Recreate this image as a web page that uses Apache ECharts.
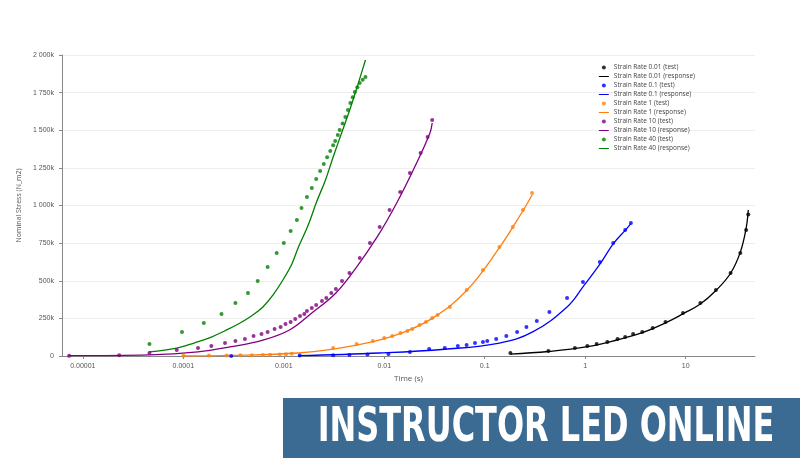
<!DOCTYPE html>
<html><head><meta charset="utf-8">
<script src="https://cdn.jsdelivr.net/npm/echarts@6/dist/echarts.min.js"></script>
<style>html,body{margin:0;padding:0;background:#fff}#c{width:800px;height:458px}</style>
</head><body><div id="c"></div>
<script>
// Strain Rate 40
const g_test_t = [4.6e-5,9.7e-5,1.6e-4,2.4e-4,3.3e-4,4.4e-4,5.5e-4,6.9e-4,8.5e-4,1.0e-3,1.17e-3,1.35e-3,1.5e-3,1.7e-3,1.9e-3,2.1e-3,2.3e-3,2.5e-3,2.7e-3,2.9e-3,3.1e-3,3.25e-3,3.45e-3,3.6e-3,3.85e-3,4.1e-3,4.35e-3,4.6e-3,4.85e-3,5.1e-3,5.4e-3,5.7e-3,6.1e-3,6.5e-3];
const g_test_v = [80,160,219,279,352,419,498,591,684,751,831,904,983,1057,1116,1176,1229,1276,1320,1362,1400,1429,1468,1502,1545,1588,1635,1681,1720,1754,1785,1814,1836,1854];
const g_resp_t = [4.6e-5,8.6e-5,1.3e-4,1.9e-4,2.6e-4,3.6e-4,4.8e-4,6.2e-4,7.8e-4,9.8e-4,1.2e-3,1.4e-3,1.75e-3,2.1e-3,2.6e-3,3.1e-3,3.8e-3,4.6e-3,5.5e-3,6.5e-3];
const g_resp_v = [27,53,88,126,168,216,268,326,405,505,610,724,870,1017,1170,1322,1490,1648,1810,1967];
// Strain Rate 10
const p_test_t = [7.3e-6,2.3e-5,4.6e-5,8.6e-5,1.4e-4,1.9e-4,2.6e-4,3.3e-4,4.1e-4,5.0e-4,6.0e-4,6.9e-4,8.1e-4,9.3e-4,1.04e-3,1.17e-3,1.3e-3,1.45e-3,1.6e-3,1.7e-3,1.9e-3,2.1e-3,2.4e-3,2.65e-3,2.97e-3,3.3e-3,3.8e-3,4.5e-3,5.7e-3,7.2e-3,9.0e-3,1.13e-2,1.44e-2,1.8e-2,2.3e-2,2.7e-2,3.0e-2];
const p_test_v = [2,5,20,40,53,66,86,100,113,133,146,160,179,193,213,226,246,266,279,299,319,339,365,385,419,445,498,552,651,751,857,970,1090,1216,1349,1455,1568];
const p_resp_t = [7.3e-6,4.6e-5,1.4e-4,2.9e-4,6.2e-4,1.14e-3,1.9e-3,3.3e-3,5.3e-3,8.5e-3,1.33e-2,2.1e-2,2.85e-2,3.0e-2];
const p_resp_v = [2,7,27,60,106,173,286,419,591,791,1017,1283,1482,1548];
// Strain Rate 1
const o_test_t = [1.0e-4,1.8e-4,2.7e-4,3.7e-4,4.8e-4,6.2e-4,7.3e-4,9.1e-4,1.05e-3,1.2e-3,3.1e-3,5.3e-3,7.7e-3,1.0e-2,1.2e-2,1.45e-2,1.7e-2,1.9e-2,2.25e-2,2.6e-2,3.0e-2,3.4e-2,4.5e-2,6.6e-2,9.6e-2,0.14,0.19,0.24,0.296];
const o_test_v = [1,3,3,5,5,7,8,10,12,15,53,80,100,120,133,153,166,179,206,226,253,272,326,439,572,724,857,970,1083];
const o_resp_t = [1.0e-4,3.0e-4,1.4e-3,3.1e-3,7.7e-3,1.45e-2,3.0e-2,6.6e-2,0.14,0.24,0.296];
const o_resp_v = [0,4,20,45,95,150,250,435,720,965,1070];
// Strain Rate 0.1
const b_test_t = [3.0e-4,1.44e-3,3.1e-3,4.5e-3,6.8e-3,1.1e-2,1.8e-2,2.8e-2,4.0e-2,5.4e-2,6.6e-2,8.0e-2,9.6e-2,0.106,0.13,0.164,0.21,0.26,0.33,0.44,0.66,0.95,1.4,1.9,2.5,2.85];
const b_test_v = [0,3,5,7,10,13,27,47,53,66,73,86,93,100,113,133,160,193,233,292,385,492,625,751,837,884];
const b_resp_t = [1.4e-3,9.0e-3,4.0e-2,0.14,0.3,0.66,0.95,1.4,1.9,2.5,2.85];
const b_resp_v = [2,20,45,86,160,326,459,610,745,835,880];
// Strain Rate 0.01
const k_test_t = [0.18,0.43,0.79,1.05,1.3,1.66,2.1,2.5,3.0,3.7,4.7,6.3,9.4,14,20,28,35,40,42];
const k_test_v = [20,33,53,66,80,93,113,126,146,160,186,226,286,352,439,552,684,837,940];
const k_resp_t = [0.18,0.43,1.05,2.1,3.7,6.3,9.4,14,20,28,35,40,42];
const k_resp_v = [13,30,62,108,155,220,280,345,435,550,690,850,970];

const zip = (t, v) => t.map((x, i) => [x, v[i] * 1000]);
const names = ['Strain Rate 0.01','Strain Rate 0.1','Strain Rate 1','Strain Rate 10','Strain Rate 40'];
const colors = ['#000000','#0000ff','#ff7f0e','#800080','#008000'];
const tests = [[k_test_t,k_test_v],[b_test_t,b_test_v],[o_test_t,o_test_v],[p_test_t,p_test_v],[g_test_t,g_test_v]];
const resps = [[k_resp_t,k_resp_v],[b_resp_t,b_resp_v],[o_resp_t,o_resp_v],[p_resp_t,p_resp_v],[g_resp_t,g_resp_v]];
const series = [], legendData = [];
names.forEach((n, i) => {
  series.push({name: n + ' (test)', type: 'scatter', data: zip(...tests[i]), symbolSize: 4, itemStyle: {color: colors[i]}, z: 3});
  series.push({name: n + ' (response)', type: 'line', data: zip(...resps[i]), smooth: 0.4, showSymbol: false, symbol: 'none', lineStyle: {color: colors[i], width: 1.3}, itemStyle: {color: colors[i]}});
  legendData.push({name: n + ' (test)', icon: 'circle', itemStyle: {color: colors[i]}});
  legendData.push({name: n + ' (response)', icon: 'path://M0,0h20v2h-20z', itemStyle: {color: colors[i]}});
});
const chart = echarts.init(document.getElementById('c'));
chart.setOption({
  animation: false,
  grid: {left: 62, right: 45, top: 55, bottom: 102},
  legend: {orient: 'vertical', right: 100, top: 59, itemGap: 2, itemWidth: 10, itemHeight: 4,
    textStyle: {fontSize: 6.5, color: '#444', fontFamily: 'Open Sans'}, data: legendData},
  xAxis: {type: 'log', logBase: 10, min: 6.2e-6, max: 49, name: 'Time (s)', nameLocation: 'middle', nameGap: 19,
    nameTextStyle: {fontSize: 8, color: '#555', fontFamily: 'Open Sans'},
    axisLine: {lineStyle: {color: '#888'}}, axisTick: {show: true, length: 3},
    axisLabel: {fontSize: 7, color: '#555', showMinLabel: false, showMaxLabel: false, margin: 7,
      formatter: v => String(Number(Number(v).toPrecision(1)))},
    splitLine: {show: false}},
  yAxis: {type: 'value', min: 0, max: 2000000, interval: 250000, name: 'Nominal Stress (N_m2)', nameLocation: 'middle', nameGap: 36,
    nameTextStyle: {fontSize: 7, color: '#555', fontFamily: 'Open Sans'},
    axisLine: {show: true, lineStyle: {color: '#888'}}, axisTick: {show: true, length: 3},
    axisLabel: {fontSize: 7, color: '#555', margin: 8,
      formatter: v => v === 0 ? '0' : String(v / 1000).replace(/\B(?=(\d{3})+(?!\d))/g, ' ') + 'k'},
    splitLine: {lineStyle: {color: '#eee'}}},
  series: series,
  graphic: [
    {type: 'rect', left: 283, top: 398, shape: {width: 517, height: 60}, style: {fill: '#3b6b93'}},
    {type: 'text', x: 546, y: 429, scaleX: 0.74, style: {text: 'INSTRUCTOR LED ONLINE', fill: '#fff', font: 'bold 48px "DejaVu Sans Condensed", sans-serif', align: 'center', verticalAlign: 'middle'}}
  ]
});
</script></body></html>
